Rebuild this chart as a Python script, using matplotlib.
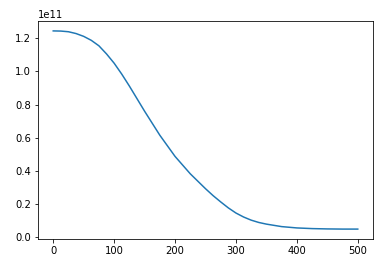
import matplotlib
matplotlib.use("Agg")
import matplotlib.pyplot as plt
import numpy as np

# values (y in units of 1e11)
x = [0, 12.5, 25, 37.5, 50, 62.5, 75, 87.5, 100, 112.5, 125, 137.5, 150,
     175, 200, 225, 250, 262.5, 275, 287.5, 300, 312.5, 325, 337.5, 350,
     375, 400, 425, 450, 475, 500]
y = [1.245, 1.244, 1.240, 1.229, 1.212, 1.188, 1.155, 1.106, 1.050, 0.984, 0.912, 0.836, 0.760,
     0.615, 0.487, 0.382, 0.292, 0.250, 0.212, 0.176, 0.145, 0.121, 0.102, 0.088, 0.078,
     0.063, 0.055, 0.051, 0.049, 0.048, 0.048]

y = np.array(y) * 1e11

fig = plt.figure(figsize=(386 / 72, 267 / 72), dpi=72)
ax = fig.add_axes([38 / 386, 28 / 267, 335 / 386, 218 / 267])
ax.plot(x, y)

fig.savefig("out.png", dpi=72)
